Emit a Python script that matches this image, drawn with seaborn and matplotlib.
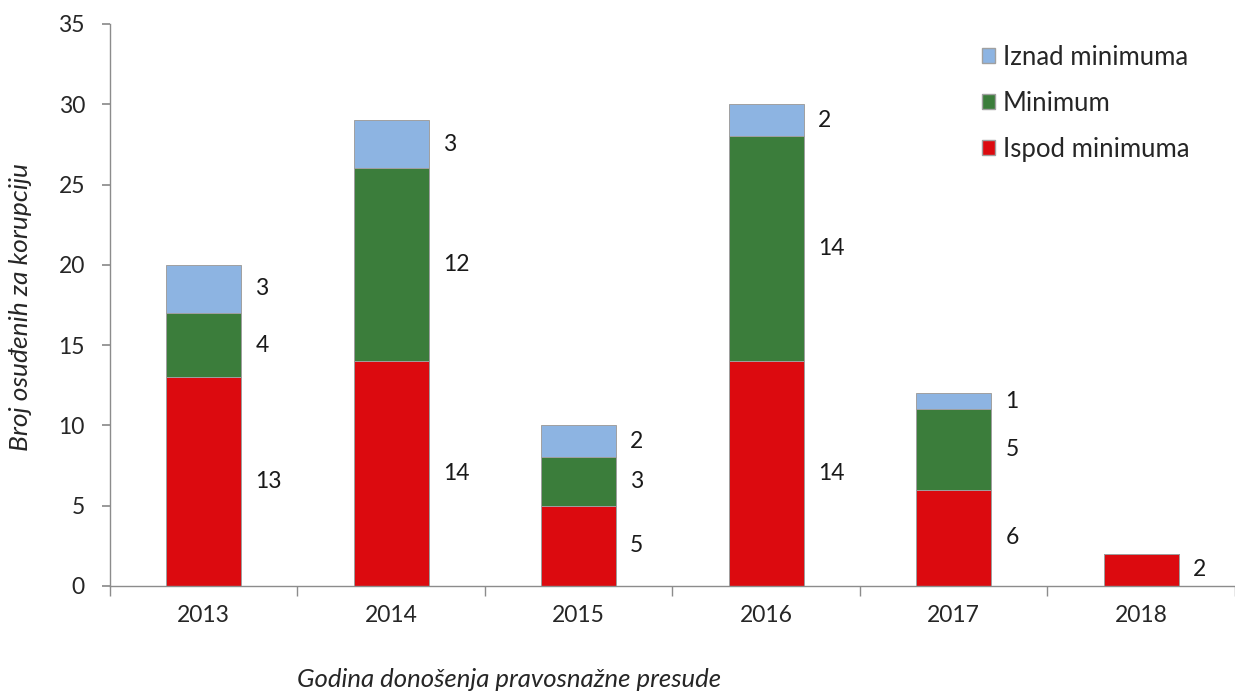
import matplotlib.pyplot as plt
import seaborn as sns
import numpy as np
import pandas as pd
from matplotlib.patches import Patch

godine = ["2013", "2014", "2015", "2016", "2017", "2018"]
ispod = [13, 14, 5, 14, 6, 2]
minimum = [4, 12, 3, 14, 5, 0]
iznad = [3, 3, 2, 2, 1, 0]

df = pd.DataFrame({"godina": godine, "ispod": ispod, "minimum": minimum, "iznad": iznad})
df["do_min"] = df["ispod"] + df["minimum"]
df["ukupno"] = df["do_min"] + df["iznad"]

sns.set_theme(style="white")
plt.rcParams["font.family"] = ["Lato", "DejaVu Sans"]

c_iznad = "#8db4e2"
c_min = "#3b7d3b"
c_ispod = "#dc0a0f"

fig = plt.figure(figsize=(12.35, 6.95), dpi=100)
ax = fig.add_axes([0.089, 0.157, 0.911, 0.8085])

# slaganje: ukupno pa preko toga manji zbirovi
for col, boja in [("ukupno", c_iznad), ("do_min", c_min), ("ispod", c_ispod)]:
    sns.barplot(data=df, x="godina", y=col, color=boja, width=0.4,
                edgecolor="#a0a0a0", linewidth=0.7, saturation=1, ax=ax)

# oznake vrijednosti
x = np.arange(len(godine))
for i in range(len(godine)):
    segmenti = [(ispod[i], 0), (minimum[i], ispod[i]), (iznad[i], ispod[i] + minimum[i])]
    for v, dno in segmenti:
        if v > 0:
            ax.text(x[i] + 0.275, dno + v / 2, str(v), va="center", ha="left",
                    fontsize=16.5, color="#1a1a1a")

ax.set_ylim(0, 35)
ax.set_yticks(range(0, 36, 5))
ax.set_xlim(-0.5, 5.42)
ax.set_xlabel("")
ax.set_ylabel("")

for s in ["top", "right"]:
    ax.spines[s].set_visible(False)
for s in ["left", "bottom"]:
    ax.spines[s].set_color("#8c8c8c")
    ax.spines[s].set_linewidth(1)

ax.tick_params(axis="y", length=6, color="#8c8c8c", labelsize=16.5, left=True, pad=12)
ax.tick_params(axis="x", length=0, labelsize=16.5, pad=14)
ax.set_xticks(np.arange(-0.5, 5.6, 1), minor=True)
ax.tick_params(axis="x", which="minor", length=7, color="#8c8c8c", bottom=True, direction="out")

fig.text(0.017, 0.558, "Broj osuđenih za korupciju", fontsize=19, style="italic",
         rotation=90, ha="center", va="center")
fig.text(0.412, 0.006, "Godina donošenja pravosnažne presude", fontsize=18.5,
         style="italic", ha="center", va="bottom")

handles = [Patch(facecolor=c_iznad, edgecolor="#a0a0a0", label="Iznad minimuma"),
           Patch(facecolor=c_min, edgecolor="#a0a0a0", label="Minimum"),
           Patch(facecolor=c_ispod, edgecolor="#a0a0a0", label="Ispod minimuma")]
ax.legend(handles=handles, loc="upper left", bbox_to_anchor=(0.757, 1.0), frameon=False,
          fontsize=18.5, handlelength=0.5, handleheight=0.5, handletextpad=0.3,
          labelspacing=0.82, borderpad=0.3)

fig.savefig("out.png", dpi=100)
